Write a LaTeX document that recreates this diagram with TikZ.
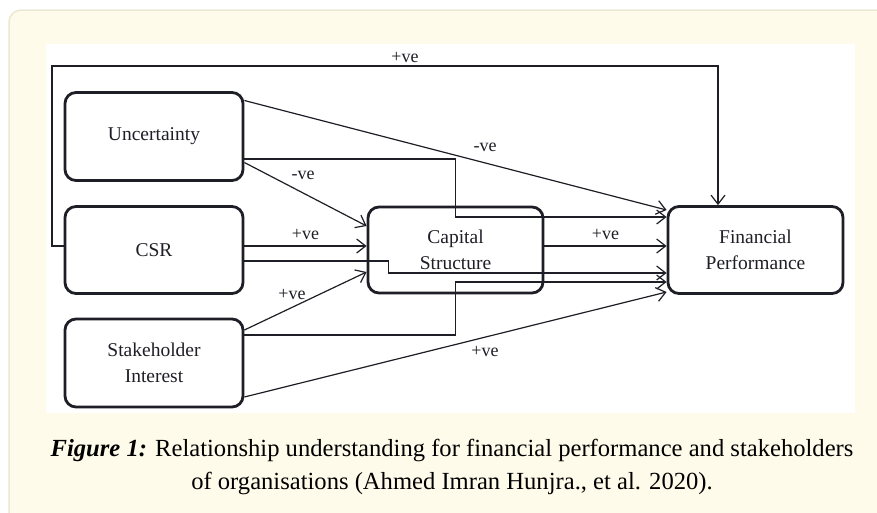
\documentclass[tikz,border=0pt]{standalone}
\usepackage{fontspec}
\usetikzlibrary{arrows.meta, calc, positioning}
\setmainfont{Liberation Serif}
\newfontfamily\capfont{Liberation Serif}
\definecolor{panel}{RGB}{255,251,234}
\definecolor{panelline}{RGB}{236,231,212}
\definecolor{ink}{RGB}{30,30,38}

\tikzset{
  factor/.style = {draw=ink, line width=2.8pt, rounded corners=11pt, minimum width=178pt,
                   minimum height=88pt, align=center, text=ink,
                   font=\fontsize{19.5}{26}\selectfont},
  link/.style = {draw=ink, line width=1.2pt, -{Straight Barb[length=9pt,width=14pt,line width=1.2pt]}},
  sign/.style = {text=ink, font=\fontsize{18}{20}\selectfont, inner sep=1pt}
}

\begin{document}
\begin{tikzpicture}[x=1pt, y=-1pt]
\useasboundingbox (0,0) rectangle (877,512);
% panel and white figure area
\fill[panel, draw=panelline, line width=1.5pt, rounded corners=12pt] (9,10) rectangle (900,540);
\fill[white] (46,44) rectangle (855,413);

\node[factor] (unc) at (154,136.5) {Uncertainty};
\node[factor, minimum height=87pt] (csr) at (154,250) {CSR};
\node[factor] (stk) at (154,363) {Stakeholder\\Interest};
\node[factor, minimum width=175pt, minimum height=86pt] (cap) at (455.5,250) {Capital\\Structure};
\node[factor, minimum width=175pt, minimum height=87pt] (fin) at (755.5,250) {Financial\\Performance};

\coordinate (topl) at (52,66);
\coordinate (topr) at (718,66);

% feedback path over the top
\draw[link] ([yshift=4pt]csr.west) -| (topl) -- node[sign, pos=0.53, above=2pt] (tp) {+ve} (topr) -- (topr |- fin.north);

% uncertainty
\draw[link] ([yshift=36pt]unc.east) -- node[sign, pos=0.57, above=10pt] (ua) {-ve} ([yshift=40pt]fin.west);
\draw[link] ([yshift=-22.5pt]unc.east) -| ([yshift=33pt]cap.center) -- ([yshift=33pt]fin.west);
\draw[link] ([yshift=-26pt]unc.east) -- node[sign, pos=0.48, above=12pt] (ub) {-ve} ([yshift=24pt]cap.west);

% csr
\draw[link] ([yshift=4pt]csr.east) -- node[sign, above=5pt] (cb) {+ve} ([yshift=4pt]cap.west);
\draw[link] ([yshift=-11pt]csr.east) -| ([xshift=22pt,yshift=-23pt]cap.west) -- ([yshift=-23pt]fin.west);

% stakeholder interest
\draw[link] ([yshift=33pt]stk.east) -- node[sign, pos=0.39, above=6pt] (sa) {+ve} ([yshift=-22pt]cap.west);
\draw[link] ([yshift=28pt]stk.east) -| ([yshift=-32pt]cap.center) -- ([yshift=-32pt]fin.west);
\draw[link] ([yshift=-34pt]stk.east) -- node[sign, pos=0.57, below=8pt] (sb) {+ve} ([yshift=-42pt]fin.west);

% capital structure
\draw[link] ([yshift=4pt]cap.east) -- node[sign, above=5pt] (fb) {+ve} ([yshift=4pt]fin.west);

% caption
\node[font=\capfont\fontsize{24.6}{33}\selectfont, align=center, text=black] (cap1) at (452,467)
  {\textbf{\textit{Figure 1:}} Relationship understanding for financial performance and stakeholders\\
   of organisations (Ahmed Imran Hunjra., et al. 2020).};
\end{tikzpicture}
\end{document}
